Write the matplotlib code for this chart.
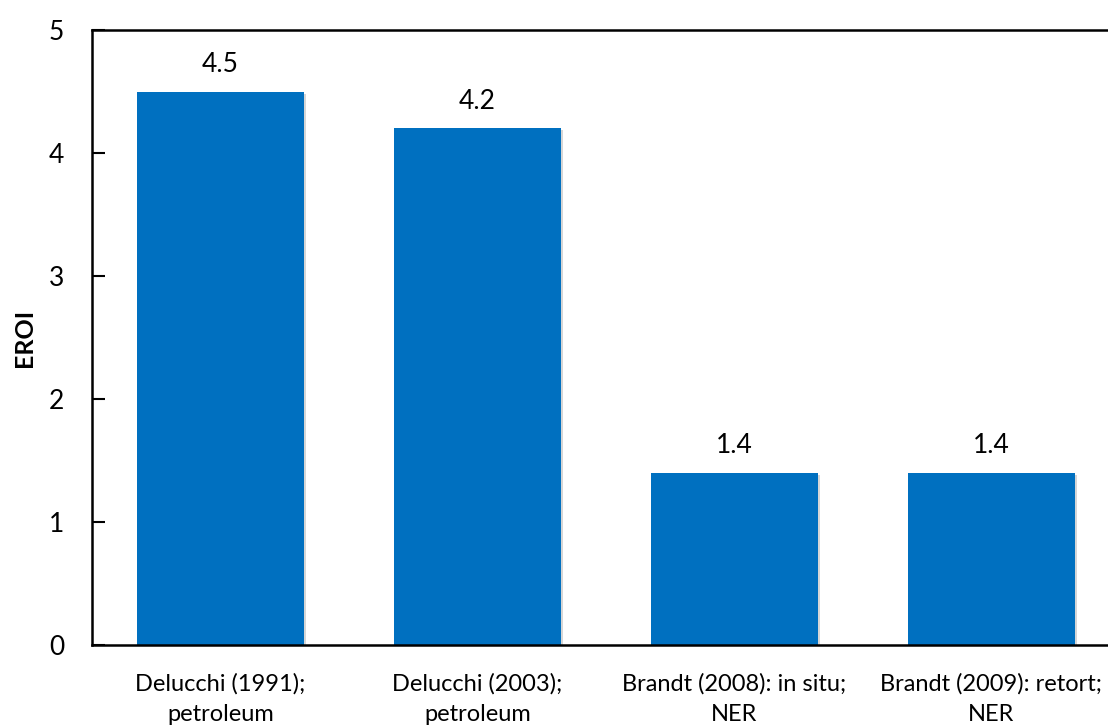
import matplotlib.pyplot as plt
import matplotlib.patheffects as pe

categories = [
    "Delucchi (1991);\npetroleum",
    "Delucchi (2003);\npetroleum",
    "Brandt (2008): in situ;\nNER",
    "Brandt (2009): retort;\nNER",
]
eroi = [4.5, 4.2, 1.4, 1.4]
value_labels = ["4.5", "4.2", "1.4", "1.4"]
yticks = [0, 1, 2, 3, 4, 5]

plt.rcParams["font.family"] = ["Lato", "DejaVu Sans"]

fig = plt.figure(figsize=(11.08, 7.25), dpi=100)
# axes runs a little past the right edge, as in the cropped original
ax = fig.add_axes([92 / 1108, 1 - 645 / 725, (1120 - 92) / 1108, (645 - 30) / 725])

x = list(range(len(categories)))
bars = ax.bar(x, eroi, width=0.65, color="#0070C0", zorder=2)
for b in bars:
    b.set_path_effects([pe.SimplePatchShadow(offset=(1.5, -1.5), shadow_rgbFace="#999999", alpha=0.4), pe.Normal()])

for xi, v, lab in zip(x, eroi, value_labels):
    ax.annotate(lab, (xi, v), xytext=(0, 14), textcoords="offset points",
                ha="center", va="baseline", fontsize=19)

ax.set_xlim(-0.5, len(categories) - 0.5)
ax.set_ylim(0, 5)
ax.set_yticks(yticks)
ax.set_xticks(x)
ax.set_xticklabels(categories, fontsize=17, linespacing=1.55)
ax.tick_params(axis="x", length=0, pad=20)
ax.tick_params(axis="y", direction="in", length=9, width=1.5, labelsize=19, pad=20)
ax.set_ylabel("EROI", fontsize=18, fontweight="bold", labelpad=9)

for s in ax.spines.values():
    s.set_linewidth(1.8)
    s.set_color("black")

fig.savefig("out.png", dpi=100)
